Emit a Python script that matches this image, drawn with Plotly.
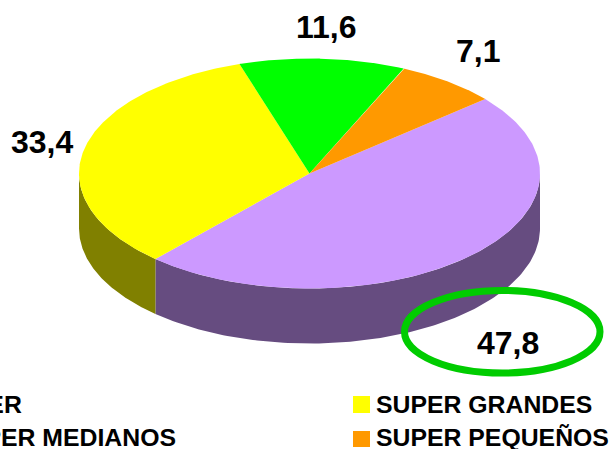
import numpy as np
import plotly.graph_objects as go

# Data, in drawing order (clockwise from the first slice)
categories = ["HIPER", "SUPER GRANDES", "SUPER MEDIANOS", "SUPER PEQUEÑOS"]
values = [47.8, 33.4, 11.6, 7.1]
value_labels = ["47,8", "33,4", "11,6", "7,1"]
top_colors = ["#CC99FF", "#FFFF00", "#00FF00", "#FF9900"]
side_colors = ["#664C80", "#808000", "#008000", "#804C00"]

W, H = 615, 449
CX, CY, A, B, DEPTH = 309.5, 173.5, 230.5, 115, 55
START_DEG = 49.7  # clockwise from 12 o'clock


def pt(deg):
    r = np.radians(deg)
    return CX + A * np.sin(r), CY - B * np.cos(r)


fig = go.Figure()
shares = np.array(values) / sum(values) * 360
edges = START_DEG + np.concatenate([[0], np.cumsum(shares)])

# Rim: only the front half of the ellipse (90..270 deg clockwise from top) shows
for i in range(len(values)):
    lo, hi = max(edges[i], 90), min(edges[i + 1], 270)
    if hi <= lo:
        continue
    t = np.linspace(lo, hi, 120)
    x, y = pt(t)
    fig.add_trace(go.Scatter(
        x=np.concatenate([x, x[::-1]]), y=np.concatenate([y, y[::-1] + DEPTH]),
        mode="lines", fill="toself", fillcolor=side_colors[i],
        line=dict(width=0, color=side_colors[i]), hoverinfo="skip", showlegend=False))

# Top face
for i in range(len(values)):
    t = np.linspace(edges[i], edges[i + 1], 200)
    x, y = pt(t)
    fig.add_trace(go.Scatter(
        x=np.concatenate([[CX], x, [CX]]), y=np.concatenate([[CY], y, [CY]]),
        mode="lines", fill="toself", fillcolor=top_colors[i],
        line=dict(width=0, color=top_colors[i]), name=categories[i],
        text=value_labels[i], hoverinfo="name+text", showlegend=False))

LABEL_FONT = dict(family="Liberation Sans", size=32, color="#000000", weight="bold")
LEGEND_FONT = dict(family="Liberation Sans", size=24.8, color="#000000", weight="bold")
label_pos = [(508, 343), (42, 142), (326, 27), (478, 51)]
annotations = [dict(x=p[0], y=p[1], text=t, showarrow=False, font=LABEL_FONT,
                    xref="x", yref="y", xanchor="center", yanchor="middle")
               for p, t in zip(label_pos, value_labels)]

# Legend (the left column runs off the page, as in the reference)
legend_rows = [(24, 404, "right"), (374, 404, "left"), (178, 437, "right"), (374, 437, "left")]
for (x, y, anc), name in zip(legend_rows, categories):
    annotations.append(dict(x=x, y=y, text=name, showarrow=False, font=LEGEND_FONT,
                            xref="x", yref="y", xanchor=anc, yanchor="middle"))

shapes = [
    dict(type="circle", xref="x", yref="y", x0=404.5, x1=600, y0=290.5, y1=373,
         line=dict(color="#00CC00", width=7), fillcolor="rgba(0,0,0,0)", layer="above"),
    dict(type="rect", xref="x", yref="y", x0=353, x1=370, y0=396, y1=413,
         fillcolor=top_colors[1], line=dict(width=0)),
    dict(type="rect", xref="x", yref="y", x0=353, x1=370, y0=431, y1=447,
         fillcolor=top_colors[3], line=dict(width=0)),
]

fig.update_layout(
    width=W, height=H, margin=dict(l=0, r=0, t=0, b=0),
    paper_bgcolor="#FFFFFF", plot_bgcolor="#FFFFFF", showlegend=False,
    xaxis=dict(range=[0, W], visible=False, fixedrange=True),
    yaxis=dict(range=[H, 0], visible=False, fixedrange=True),
    annotations=annotations, shapes=shapes,
)
fig.write_html("out.html", config=dict(displayModeBar=False),
               post_script="document.body.style.margin='0';document.body.style.overflow='hidden';")
